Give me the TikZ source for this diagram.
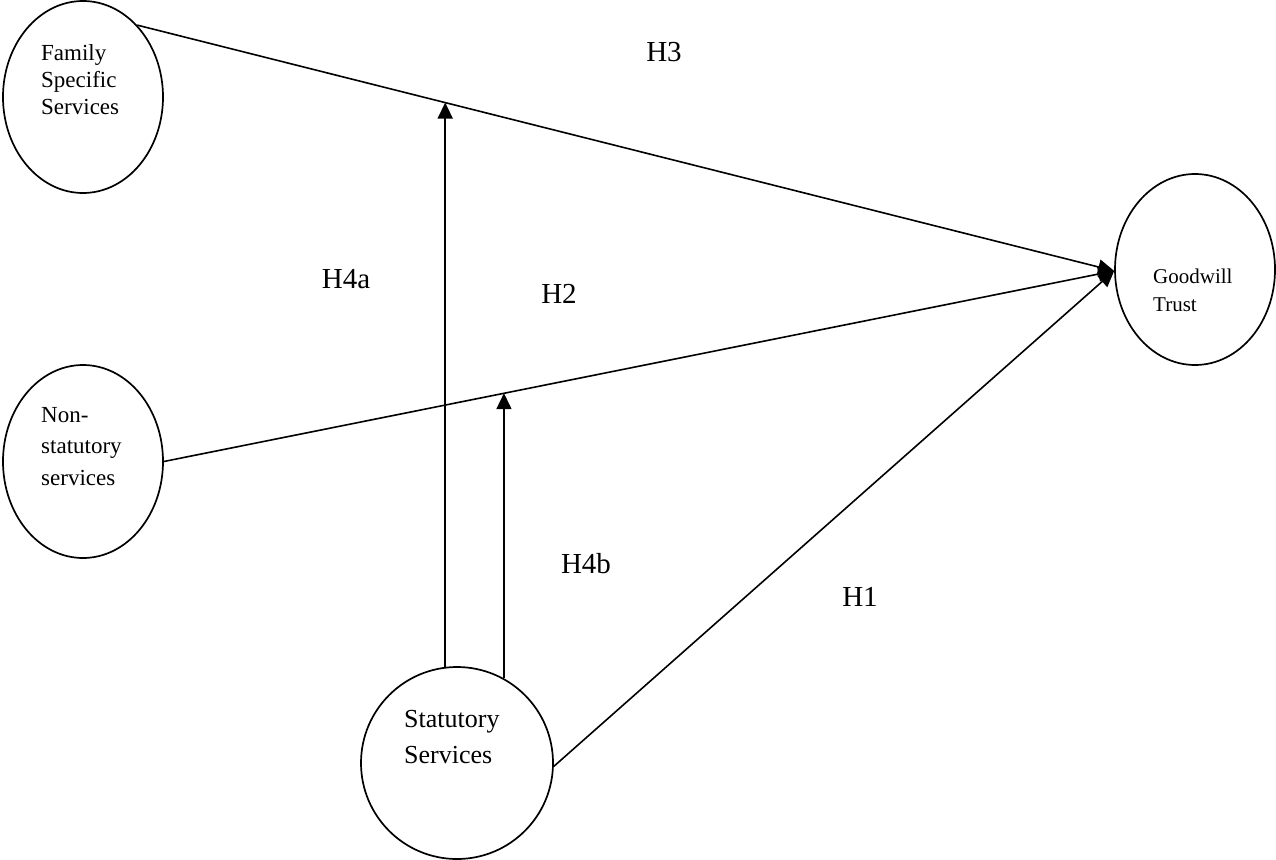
\documentclass[tikz,border=0pt]{standalone}
\usepackage{fontspec}
\setmainfont{Liberation Serif}
\usetikzlibrary{arrows.meta,shapes.geometric,calc}
\begin{document}
\begin{tikzpicture}[x=1pt,y=-1pt,
  oval/.style={draw,ellipse,line width=1.7pt,inner sep=0pt},
  conn/.style={line width=1.6pt},
  arr/.style={conn,-{Triangle[length=16pt,width=15pt]}},
  lbl/.style={anchor=north west,inner sep=0pt,align=left},
  hyp/.style={font=\fontsize{29}{33}\selectfont,inner sep=0pt}]
\useasboundingbox (0,0) rectangle (1276,859);
% ovals
\node[oval,minimum width=160pt,minimum height=192pt] (fam) at (83,97) {};
\node[oval,minimum width=160pt,minimum height=193pt] (ns) at (83,461.5) {};
\node[oval,minimum width=160pt,minimum height=191pt] (good) at (1195,269.5) {};
\node[oval,circle,minimum size=192pt] (stat) at (457,763) {};
% texts
\node[lbl,font=\fontsize{23}{27}\selectfont] (famt) at (41,44) {Family\\Specific\\Services};
\node[lbl,font=\fontsize{23}{31.5}\selectfont] (nst) at (41,407) {Non-\\statutory\\services};
\node[lbl,font=\fontsize{26}{36}\selectfont] (statt) at (404,710) {Statutory\\Services};
\node[lbl,font=\fontsize{21}{28}\selectfont] (goodt) at (1153,269) {Goodwill\\Trust};
% connectors
\draw[arr] (fam.53.5) -- (good.181);
\draw[arr] (ns.east) -- (good.181);
\draw[arr] (stat.-2) -- (good.181);
\coordinate (m1) at ($(fam.53.5)!0.315!(good.181)$);
\coordinate (m2) at ($(ns.east)!0.3586!(good.181)$);
\draw[arr] (stat.97) -- (stat.97 |- m1);
\draw[arr] (stat.61) -- (stat.61 |- m2);
% hypothesis labels
\node[hyp] (h3) at (664,52) {H3};
\node[hyp] (h4a) at (346,279) {H4a};
\node[hyp] (h2) at (559,294) {H2};
\node[hyp] (h4b) at (586,564) {H4b};
\node[hyp] (h1) at (860,597) {H1};
\end{tikzpicture}
\end{document}
